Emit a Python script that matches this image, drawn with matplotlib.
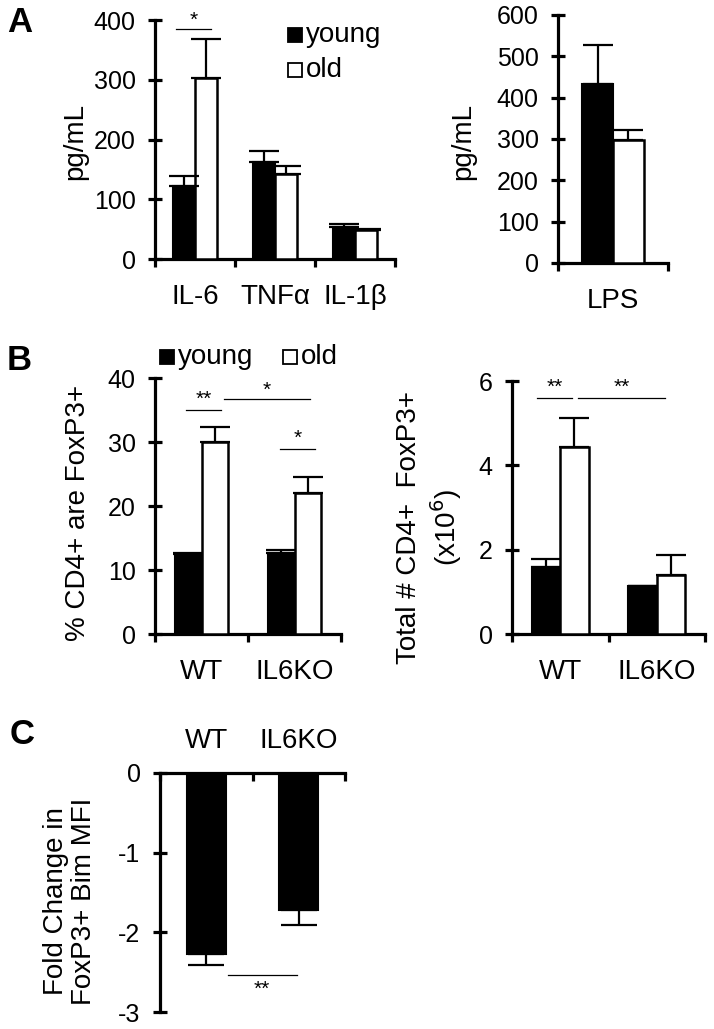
import matplotlib
matplotlib.use("Agg")
import matplotlib.pyplot as plt
from matplotlib.patches import Rectangle

plt.rcParams['font.family'] = ['Liberation Sans', 'DejaVu Sans']
plt.rcParams['axes.unicode_minus'] = False

W, H = 714, 1029

# ---- data ----
cyto_cats = ['IL-6', 'TNFα', 'IL-1β']
cyto_young = [122, 162, 53]
cyto_young_err = [17, 19, 5]
cyto_old = [303, 142, 48]
cyto_old_err = [65, 14, 3]

lps_cats = ['LPS']
lps_young = [432]
lps_young_err = [95]
lps_old = [297]
lps_old_err = [25]

geno_cats = ['WT', 'IL6KO']
pct_young = [12.5, 12.6]
pct_young_err = [0.2, 0.5]
pct_old = [30.0, 22.0]
pct_old_err = [2.3, 2.5]

tot_young = [1.60, 1.13]
tot_young_err = [0.19, 0.02]
tot_old = [4.44, 1.41]
tot_old_err = [0.68, 0.47]

bim_fold = [-2.27, -1.72]
bim_err = [0.14, 0.19]

TICK_FS = 18
LAB_FS = 20
STAR_FS = 15

fig = plt.figure(figsize=(W / 100, H / 100), dpi=100)


def px_axes(x0, y0, x1, y1):
    return fig.add_axes([x0 / W, 1 - y1 / H, (x1 - x0) / W, (y1 - y0) / H])


def fx(x):
    return x / W


def fy(y):
    return 1 - y / H


def style(ax, cats, yticks, top=False):
    n = len(cats)
    ax.set_xlim(0, n)
    for s in ['right', 'bottom' if top else 'top']:
        ax.spines[s].set_visible(False)
    for s in ['left', 'top' if top else 'bottom']:
        ax.spines[s].set_linewidth(2.3)
    ax.set_yticks(yticks)
    ax.tick_params(axis='y', direction='inout', length=10, width=2.3,
                   labelsize=TICK_FS, pad=9)
    ax.set_xticks(range(n + 1))
    ax.set_xticklabels([])
    ax.set_xticks([i + 0.5 for i in range(n)], minor=True)
    ax.set_xticklabels(cats, minor=True, fontsize=LAB_FS)
    if top:
        ax.xaxis.tick_top()
        ax.tick_params(axis='x', which='major', direction='in', length=6, width=2.3)
        ax.tick_params(axis='x', which='minor', top=True, length=0, pad=14)
    else:
        ax.tick_params(axis='x', which='major', direction='out', length=6, width=2.3)
        ax.tick_params(axis='x', which='minor', length=0, pad=18)


def pair_bars(ax, young, yerr, old, oerr, w):
    xs = [i + 0.5 for i in range(len(young))]
    ek = dict(elinewidth=1.6, capthick=1.6, ecolor='black')
    ax.bar([x - w / 2 for x in xs], young, w, color='black', edgecolor='black',
           linewidth=1.5, yerr=[[0] * len(young), yerr], capsize=11,
           error_kw=ek, zorder=3)
    ax.bar([x + w / 2 for x in xs], old, w, color='white', edgecolor='black',
           linewidth=1.8, yerr=[[0] * len(old), oerr], capsize=11,
           error_kw=ek, zorder=3)


def sig(ax, x0, x1, y, ys, txt):
    ax.plot([x0, x1], [y, y], color='black', lw=0.9, clip_on=False)
    ax.text((x0 + x1) / 2, ys, txt, ha='center', va='center', fontsize=STAR_FS,
            clip_on=False)


# ---- A left ----
ax = px_axes(155, 20, 395, 259)
pair_bars(ax, cyto_young, cyto_young_err, cyto_old, cyto_old_err, 0.28)
ax.set_ylim(0, 400)
style(ax, cyto_cats, [0, 100, 200, 300, 400])
sig(ax, 0.26, 0.70, 385, 400, '*')

# ---- A right ----
ax = px_axes(558, 15, 668, 263)
pair_bars(ax, lps_young, lps_young_err, lps_old, lps_old_err, 0.28)
ax.set_ylim(0, 600)
style(ax, lps_cats, [0, 100, 200, 300, 400, 500, 600])

# ---- B left ----
ax = px_axes(155, 378, 341, 634)
pair_bars(ax, pct_young, pct_young_err, pct_old, pct_old_err, 0.29)
ax.set_ylim(0, 40)
style(ax, geno_cats, [0, 10, 20, 30, 40])
sig(ax, 0.33, 0.71, 35, 36.6, '**')
sig(ax, 0.74, 1.67, 36.7, 38.0, '*')
sig(ax, 1.34, 1.72, 28.9, 30.6, '*')

# ---- B right ----
ax = px_axes(512, 381, 705, 634)
pair_bars(ax, tot_young, tot_young_err, tot_old, tot_old_err, 0.295)
ax.set_ylim(0, 6)
style(ax, geno_cats, [0, 2, 4, 6])
sig(ax, 0.26, 0.62, 5.6, 5.84, '**')
sig(ax, 0.68, 1.59, 5.6, 5.84, '**')

# ---- C ----
ax = px_axes(160, 773, 345, 1012)
xs = [i + 0.5 for i in range(len(bim_fold))]
ax.bar(xs, bim_fold, 0.42, color='black', edgecolor='black', linewidth=1.5,
       yerr=[bim_err, [0] * len(bim_err)], capsize=13,
       error_kw=dict(elinewidth=1.6, capthick=1.6, ecolor='black'), zorder=3)
ax.set_ylim(-3, 0)
style(ax, geno_cats, [0, -1, -2, -3], top=True)
sig(ax, 0.73, 1.48, -2.54, -2.72, '**')

# ---- axis titles ----
fig.text(fx(75), fy(142), 'pg/mL', rotation=90, ha='center', va='center', fontsize=LAB_FS)
fig.text(fx(463), fy(142), 'pg/mL', rotation=90, ha='center', va='center', fontsize=LAB_FS)
fig.text(fx(78), fy(513), '% CD4+ are FoxP3+', rotation=90, ha='center', va='center',
         fontsize=LAB_FS)
fig.text(fx(430), fy(527), 'Total # CD4+  FoxP3+\n(x10$^{6}$)', rotation=90,
         ha='center', va='center', fontsize=LAB_FS, multialignment='center',
         linespacing=1.2)
fig.text(fx(70), fy(901), 'Fold Change in\nFoxP3+ Bim MFI', rotation=90,
         ha='center', va='center', fontsize=LAB_FS, multialignment='center',
         linespacing=1.1)

# ---- panel letters ----
for lbl, x, y in [('A', 20, 23), ('B', 19, 360), ('C', 22, 735)]:
    fig.text(fx(x), fy(y), lbl, ha='center', va='center', fontsize=25,
             fontweight='bold')

# ---- legends ----
def legend_item(x, y, face, txt):
    fig.add_artist(Rectangle((fx(x), fy(y + 14)), 14 / W, 14 / H, transform=fig.transFigure,
                             facecolor=face, edgecolor='black', linewidth=1.3))
    fig.text(fx(x + 18), fy(y + 7), txt, ha='left', va='center', fontsize=LAB_FS)


legend_item(288, 28, 'black', 'young')
legend_item(288, 63, 'white', 'old')
legend_item(160, 350, 'black', 'young')
legend_item(283, 350, 'white', 'old')

fig.savefig('out.png', dpi=100)
